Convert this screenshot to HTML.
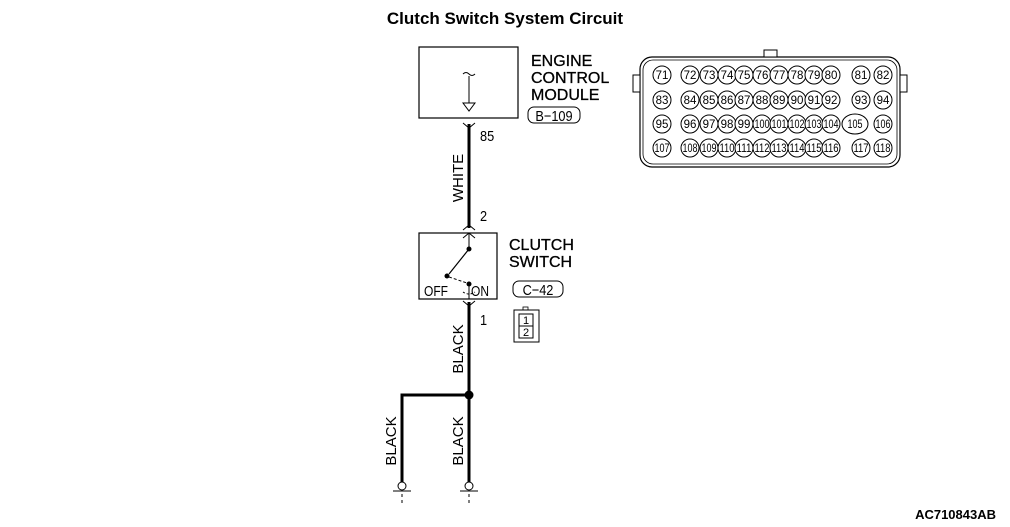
<!DOCTYPE html>
<html><head><meta charset="utf-8"><style>
html,body{margin:0;padding:0;background:#fff;}
svg{display:block;}
text{font-family:"Liberation Sans",sans-serif;fill:#000;}
.n{font-size:11.5px;text-anchor:middle;}
</style></head><body>
<svg width="1010" height="527" viewBox="0 0 1010 527" xmlns="http://www.w3.org/2000/svg">
<text x="505" y="24" font-size="17" font-weight="bold" text-anchor="middle">Clutch Switch System Circuit</text>

<rect x="419" y="47" width="99" height="71" fill="none" stroke="#000" stroke-width="1.2"/>
<path d="M463 74 q3 -3 6 0 q3 3 6 0" fill="none" stroke="#000"/>
<line x1="469" y1="76" x2="469" y2="103" stroke="#000"/>
<path d="M463 103 L475 103 L469 111 Z" fill="#fff" stroke="#000"/>
<text x="531" y="66" font-size="16" stroke="#000" stroke-width="0.3">ENGINE</text>
<text x="531" y="83" font-size="16" stroke="#000" stroke-width="0.3">CONTROL</text>
<text x="531" y="100" font-size="16" stroke="#000" stroke-width="0.3">MODULE</text>
<rect x="528" y="107" width="52" height="16" rx="6" fill="none" stroke="#000"/>
<text x="554" y="121" font-size="15" text-anchor="middle" transform="translate(554 0) scale(0.85 1) translate(-554 0)">B−109</text>

<path d="M463 123 L469 128 L475 123" fill="none" stroke="#000"/>
<line x1="469" y1="124" x2="469" y2="228" stroke="#000" stroke-width="3"/>
<text x="480" y="141" font-size="15" transform="translate(480 0) scale(0.85 1) translate(-480 0)">85</text>
<text transform="translate(463 178) rotate(-90)" font-size="15" text-anchor="middle">WHITE</text>
<text x="480" y="221" font-size="15" transform="translate(480 0) scale(0.85 1) translate(-480 0)">2</text>
<path d="M463 230 L469 225 L475 230" fill="none" stroke="#000"/>

<rect x="419" y="233" width="78" height="66" fill="none" stroke="#000" stroke-width="1.2"/>
<path d="M463 238 L469 233 L475 238" fill="none" stroke="#000"/>
<line x1="469" y1="233" x2="469" y2="249" stroke="#000"/>
<circle cx="469" cy="249" r="2.5" fill="#000"/>
<line x1="469" y1="249" x2="449" y2="274" stroke="#000" stroke-width="1.2"/>
<circle cx="447" cy="276" r="2.5" fill="#000"/>
<circle cx="469" cy="284" r="2.5" fill="#000"/>
<line x1="449" y1="277" x2="467" y2="283" stroke="#000" stroke-dasharray="3,2"/>
<line x1="469" y1="284" x2="469" y2="299" stroke="#000"/>
<path d="M463 292 q6 4 12 0" fill="none" stroke="#000" stroke-dasharray="2,2"/>
<text x="424" y="296" font-size="15" transform="translate(424 0) scale(0.8 1) translate(-424 0)">OFF</text>
<text x="471" y="296" font-size="15" transform="translate(471 0) scale(0.8 1) translate(-471 0)">ON</text>
<text x="509" y="250" font-size="16" stroke="#000" stroke-width="0.3">CLUTCH</text>
<text x="509" y="267" font-size="16" stroke="#000" stroke-width="0.3">SWITCH</text>
<rect x="513" y="281" width="50" height="16" rx="6" fill="none" stroke="#000"/>
<text x="538" y="295" font-size="15" text-anchor="middle" transform="translate(538 0) scale(0.85 1) translate(-538 0)">C−42</text>
<rect x="514" y="310" width="25" height="32" fill="none" stroke="#000"/>
<rect x="519" y="314" width="14" height="12" fill="none" stroke="#000"/>
<rect x="519" y="326" width="14" height="12" fill="none" stroke="#000"/>
<rect x="523" y="307" width="5" height="3" fill="none" stroke="#000" stroke-width="0.8"/>
<text x="526" y="324" font-size="11" text-anchor="middle">1</text>
<text x="526" y="336" font-size="11" text-anchor="middle">2</text>

<path d="M463 301 L469 306 L475 301" fill="none" stroke="#000"/>
<line x1="469" y1="302" x2="469" y2="482" stroke="#000" stroke-width="3"/>
<text x="480" y="325" font-size="15" transform="translate(480 0) scale(0.85 1) translate(-480 0)">1</text>
<text transform="translate(463 349) rotate(-90)" font-size="15" text-anchor="middle">BLACK</text>
<circle cx="469" cy="395" r="4.5" fill="#000"/>
<polyline points="469,395 402,395 402,482" fill="none" stroke="#000" stroke-width="3"/>
<text transform="translate(463 441) rotate(-90)" font-size="15" text-anchor="middle">BLACK</text>
<text transform="translate(396 441) rotate(-90)" font-size="15" text-anchor="middle">BLACK</text>
<g fill="none" stroke="#000">
<circle cx="402" cy="486" r="4"/><line x1="393" y1="491" x2="411" y2="491"/><line x1="402" y1="494" x2="402" y2="497"/><line x1="402" y1="500" x2="402" y2="503"/>
<circle cx="469" cy="486" r="4"/><line x1="460" y1="491" x2="478" y2="491"/><line x1="469" y1="494" x2="469" y2="497"/><line x1="469" y1="500" x2="469" y2="503"/>
</g>

<rect x="640" y="57" width="260" height="110" rx="12" fill="none" stroke="#000" stroke-width="1.2"/>
<rect x="643" y="60" width="254" height="104" rx="10" fill="none" stroke="#000" stroke-width="0.8"/>
<rect x="764" y="50" width="13" height="7" fill="#fff" stroke="#000"/>
<rect x="633" y="75" width="7" height="17" fill="#fff" stroke="#000"/>
<rect x="900" y="75" width="7" height="17" fill="#fff" stroke="#000"/>
<g fill="#fff" stroke="#000" stroke-width="1">
<circle cx="662" cy="75" r="9"/><circle cx="690" cy="75" r="9"/><circle cx="709" cy="75" r="9"/><circle cx="727" cy="75" r="9"/><circle cx="744" cy="75" r="9"/><circle cx="762" cy="75" r="9"/><circle cx="779" cy="75" r="9"/><circle cx="797" cy="75" r="9"/><circle cx="814" cy="75" r="9"/><circle cx="831" cy="75" r="9"/><circle cx="861" cy="75" r="9"/><circle cx="883" cy="75" r="9"/>
<circle cx="662" cy="100" r="9"/><circle cx="690" cy="100" r="9"/><circle cx="709" cy="100" r="9"/><circle cx="727" cy="100" r="9"/><circle cx="744" cy="100" r="9"/><circle cx="762" cy="100" r="9"/><circle cx="779" cy="100" r="9"/><circle cx="797" cy="100" r="9"/><circle cx="814" cy="100" r="9"/><circle cx="831" cy="100" r="9"/><circle cx="861" cy="100" r="9"/><circle cx="883" cy="100" r="9"/>
<circle cx="662" cy="124" r="9"/><circle cx="690" cy="124" r="9"/><circle cx="709" cy="124" r="9"/><circle cx="727" cy="124" r="9"/><circle cx="744" cy="124" r="9"/><circle cx="762" cy="124" r="9"/><circle cx="779" cy="124" r="9"/><circle cx="797" cy="124" r="9"/><circle cx="814" cy="124" r="9"/><circle cx="831" cy="124" r="9"/><ellipse cx="855" cy="124" rx="13" ry="10"/><circle cx="883" cy="124" r="9"/>
<circle cx="662" cy="148" r="9"/><circle cx="690" cy="148" r="9"/><circle cx="709" cy="148" r="9"/><circle cx="727" cy="148" r="9"/><circle cx="744" cy="148" r="9"/><circle cx="762" cy="148" r="9"/><circle cx="779" cy="148" r="9"/><circle cx="797" cy="148" r="9"/><circle cx="814" cy="148" r="9"/><circle cx="831" cy="148" r="9"/><circle cx="861" cy="148" r="9"/><circle cx="883" cy="148" r="9"/>
</g>
<g>
<text class="n" x="662" y="79">71</text><text class="n" x="690" y="79">72</text><text class="n" x="709" y="79">73</text><text class="n" x="727" y="79">74</text><text class="n" x="744" y="79">75</text><text class="n" x="762" y="79">76</text><text class="n" x="779" y="79">77</text><text class="n" x="797" y="79">78</text><text class="n" x="814" y="79">79</text><text class="n" x="831" y="79">80</text><text class="n" x="861" y="79">81</text><text class="n" x="883" y="79">82</text>
<text class="n" x="662" y="104">83</text><text class="n" x="690" y="104">84</text><text class="n" x="709" y="104">85</text><text class="n" x="727" y="104">86</text><text class="n" x="744" y="104">87</text><text class="n" x="762" y="104">88</text><text class="n" x="779" y="104">89</text><text class="n" x="797" y="104">90</text><text class="n" x="814" y="104">91</text><text class="n" x="831" y="104">92</text><text class="n" x="861" y="104">93</text><text class="n" x="883" y="104">94</text>
<text class="n" x="662" y="128">95</text><text class="n" x="690" y="128">96</text><text class="n" x="709" y="128">97</text><text class="n" x="727" y="128">98</text><text class="n" x="744" y="128">99</text><text class="n" x="762" y="128" textLength="15" lengthAdjust="spacingAndGlyphs">100</text><text class="n" x="779" y="128" textLength="15" lengthAdjust="spacingAndGlyphs">101</text><text class="n" x="797" y="128" textLength="15" lengthAdjust="spacingAndGlyphs">102</text><text class="n" x="814" y="128" textLength="15" lengthAdjust="spacingAndGlyphs">103</text><text class="n" x="831" y="128" textLength="15" lengthAdjust="spacingAndGlyphs">104</text><text class="n" x="855" y="128" textLength="15" lengthAdjust="spacingAndGlyphs">105</text><text class="n" x="883" y="128" textLength="15" lengthAdjust="spacingAndGlyphs">106</text>
<text class="n" x="662" y="152" textLength="15" lengthAdjust="spacingAndGlyphs">107</text><text class="n" x="690" y="152" textLength="15" lengthAdjust="spacingAndGlyphs">108</text><text class="n" x="709" y="152" textLength="15" lengthAdjust="spacingAndGlyphs">109</text><text class="n" x="727" y="152" textLength="15" lengthAdjust="spacingAndGlyphs">110</text><text class="n" x="744" y="152" textLength="15" lengthAdjust="spacingAndGlyphs">111</text><text class="n" x="762" y="152" textLength="15" lengthAdjust="spacingAndGlyphs">112</text><text class="n" x="779" y="152" textLength="15" lengthAdjust="spacingAndGlyphs">113</text><text class="n" x="797" y="152" textLength="15" lengthAdjust="spacingAndGlyphs">114</text><text class="n" x="814" y="152" textLength="15" lengthAdjust="spacingAndGlyphs">115</text><text class="n" x="831" y="152" textLength="15" lengthAdjust="spacingAndGlyphs">116</text><text class="n" x="861" y="152" textLength="15" lengthAdjust="spacingAndGlyphs">117</text><text class="n" x="883" y="152" textLength="15" lengthAdjust="spacingAndGlyphs">118</text>
</g>

<text x="996" y="519" font-size="13" font-weight="bold" text-anchor="end">AC710843AB</text>
</svg>
</body></html>
